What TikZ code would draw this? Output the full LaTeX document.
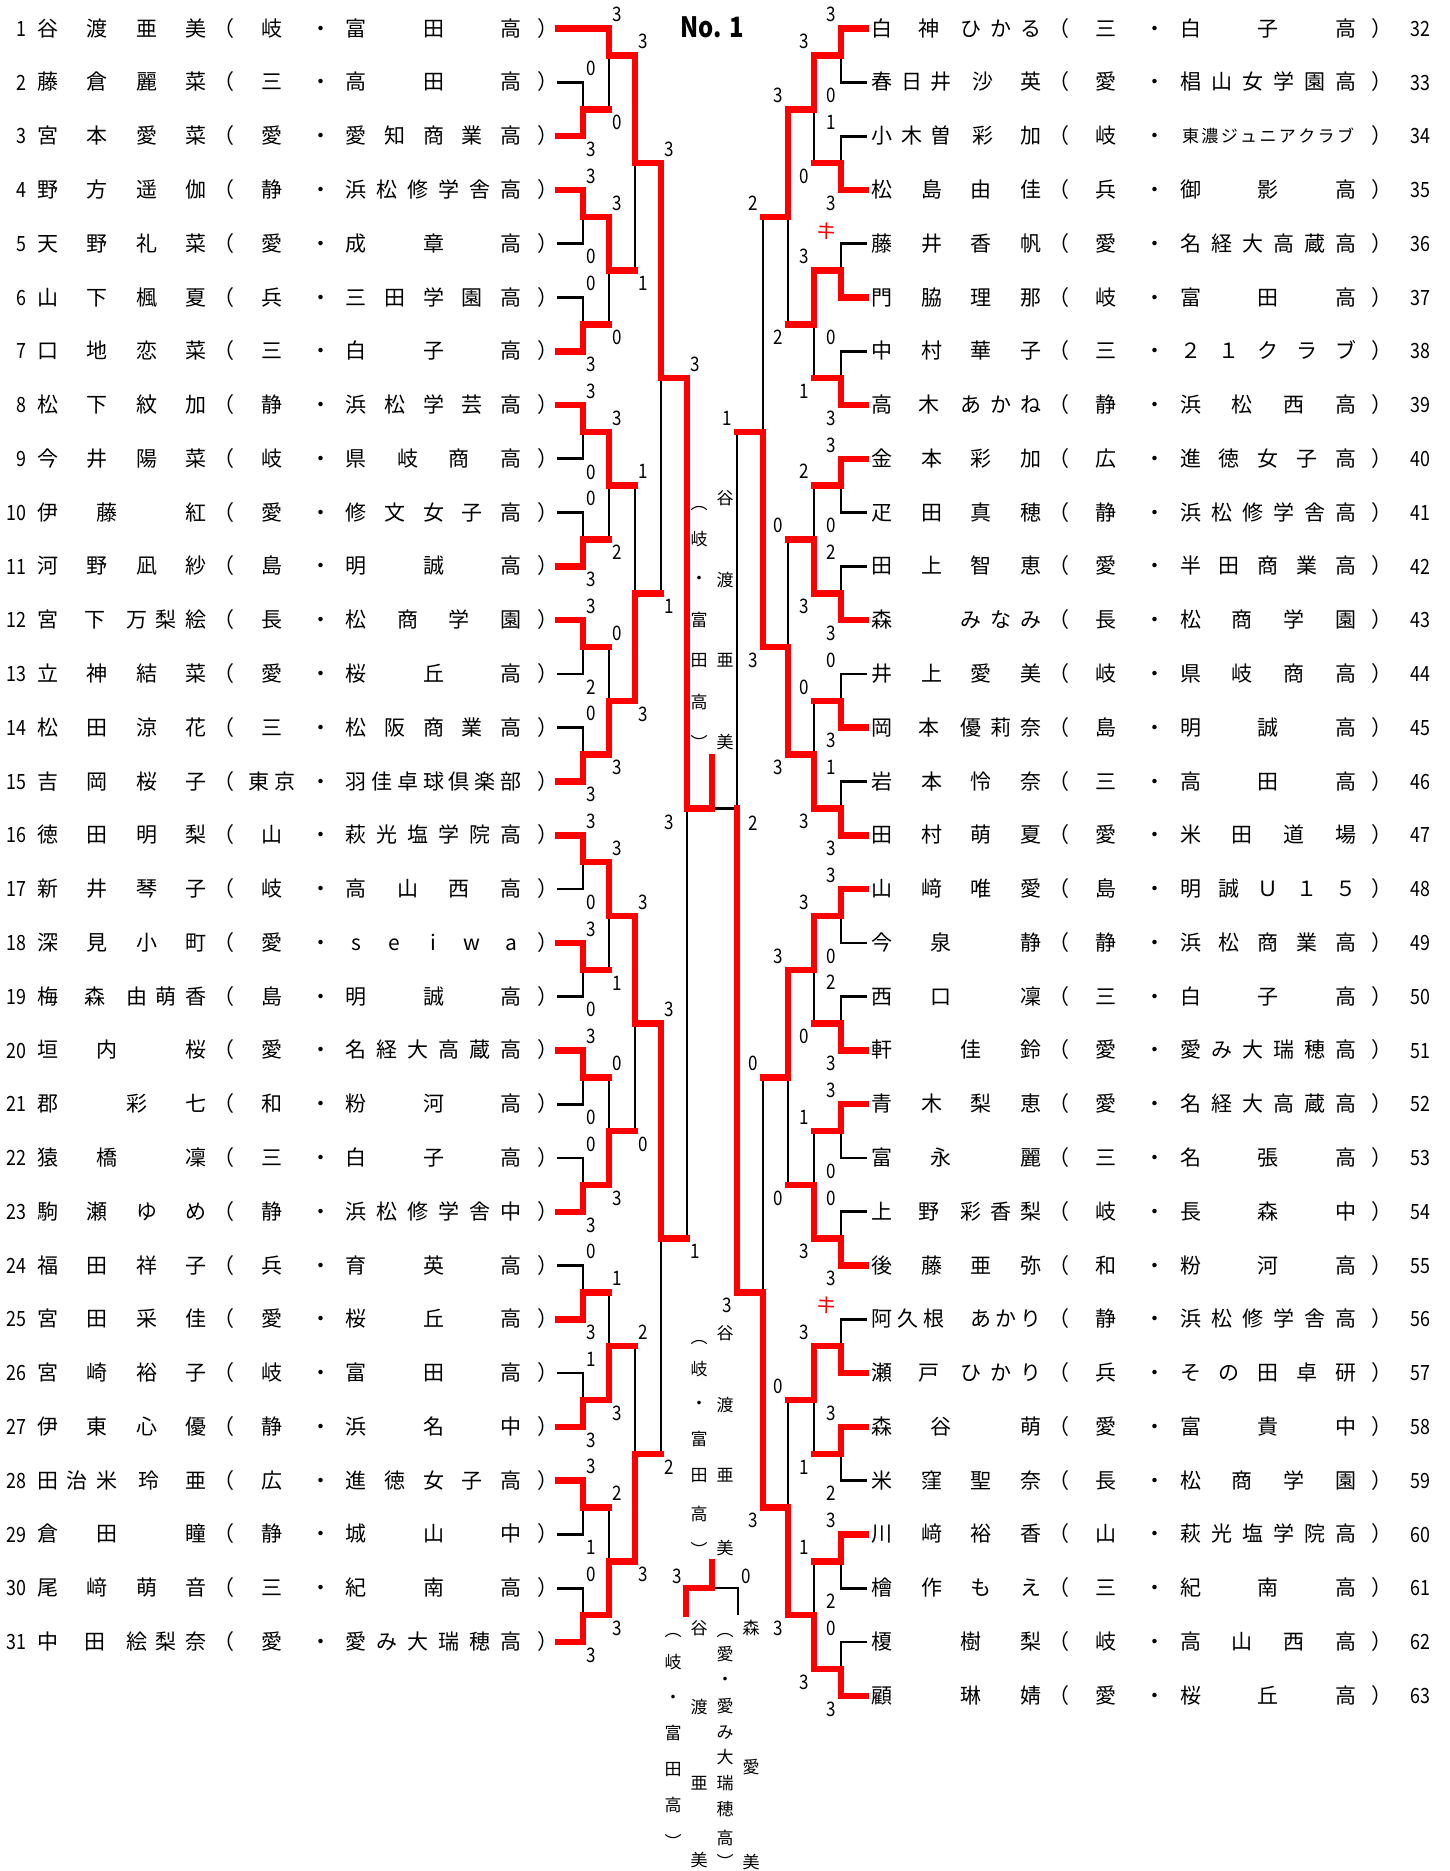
\documentclass[tikz,border=0pt]{standalone}
\usepackage{fontspec}
\setmainfont{Noto Sans CJK JP}
\newfontfamily\jp{Noto Sans CJK JP}
\newfontfamily\jpc[FakeStretch=0.85]{Noto Sans CJK JP}
\pgfdeclarelayer{bg}\pgfdeclarelayer{bk}
\pgfsetlayers{bg,bk,main}
\tikzset{
  tx/.style={font=\jp\fontsize{21}{21}\selectfont, inner sep=0pt, text height=18pt, text depth=3pt},
  txs/.style={font=\jp\fontsize{17}{17}\selectfont, inner sep=0pt, text height=14.5pt, text depth=2.5pt},
  nmb/.style={font=\jpc\fontsize{21}{21}\selectfont, inner sep=0pt, text height=15.3pt, text depth=0pt},
  sc/.style={font=\jpc\fontsize{20}{20}\selectfont, inner sep=0pt, text height=14.5pt, text depth=0pt},
  vt/.style={font=\jp\fontsize{17}{17}\selectfont, inner sep=0pt, text height=14.5pt, text depth=2.5pt},
  ki/.style={font=\jp\fontsize{20}{20}\selectfont, text=red, inner sep=0pt, rotate=-12},
  blk/.style={line width=2.7pt, black, line cap=rect},
  rd/.style={line width=6.5pt, red, line cap=rect},
}
% match: x, yTop, yBottom, yJunction, winner t/b, next x, score top, score bottom
\newcommand\M[8]{%
  \if t#5
    \draw[rd] (#1,#2) -- (#1,#4);
    \begin{pgfonlayer}{bk}\draw[blk] (#1,#3) -- (#1,#4);\end{pgfonlayer}
  \else
    \draw[rd] (#1,#3) -- (#1,#4);
    \begin{pgfonlayer}{bk}\draw[blk] (#1,#2) -- (#1,#4);\end{pgfonlayer}
  \fi
  \ifx\relax#6\relax\else\draw[rd] (#1,#4) -- (#6,#4);\fi
  \node[sc] at ({#1+\lo},{#2-14}) {#7};
  \node[sc] at ({#1+\lo},{#3+13}) {#8};
}
\newcommand\hR[3]{\draw[rd] (#2,#1) -- (#3,#1);}
\newcommand\hB[3]{\begin{pgfonlayer}{bk}\draw[blk] (#2,#1) -- (#3,#1);\end{pgfonlayer}}
% names
\newcommand\nA[5]{\node[tx] at ({\xo},#1) {#2};\node[tx] at ({\xo+49.5},#1) {#3};\node[tx] at ({\xo+99},#1) {#4};\node[tx] at ({\xo+148.5},#1) {#5};}
\newcommand\nB[6]{\node[tx] at ({\xo},#1) {#2};\node[tx] at ({\xo+47},#1) {#3};\node[tx] at ({\xo+89.1},#1) {#4};\node[tx] at ({\xo+118.8},#1) {#5};\node[tx] at ({\xo+148.5},#1) {#6};}
\newcommand\nE[6]{\node[tx] at ({\xo},#1) {#2};\node[tx] at ({\xo+29.7},#1) {#3};\node[tx] at ({\xo+59.4},#1) {#4};\node[tx] at ({\xo+101},#1) {#5};\node[tx] at ({\xo+148.5},#1) {#6};}
\newcommand\nC[4]{\node[tx] at ({\xo},#1) {#2};\node[tx] at ({\xo+59.4},#1) {#3};\node[tx] at ({\xo+148.5},#1) {#4};}
\newcommand\nD[4]{\node[tx] at ({\xo},#1) {#2};\node[tx] at ({\xo+89.1},#1) {#3};\node[tx] at ({\xo+148.5},#1) {#4};}
\newcommand\nF[5]{\node[tx] at ({\xo},#1) {#2};\node[tx] at ({\xo+89.1},#1) {#3};\node[tx] at ({\xo+118.8},#1) {#4};\node[tx] at ({\xo+148.5},#1) {#5};}
\newcommand\nG[7]{\node[tx] at ({\xo},#1) {#2};\node[tx] at ({\xo+26},#1) {#3};\node[tx] at ({\xo+52},#1) {#4};\node[tx] at ({\xo+99},#1) {#5};\node[tx] at ({\xo+124},#1) {#6};\node[tx] at ({\xo+148.5},#1) {#7};}
\newcommand\pf[2]{\node[tx] at ({\xo+176.5},#1) {（};\node[tx] at ({\xo+224},#1) {#2};\node[tx] at ({\xo+273},#1) {・};\node[tx] at ({\xo+500},#1) {）};}
\newcommand\sch[3]{\foreach \zz [count=\ii from 0] in {#3} {\node[tx] at ({\xo+308.5+\ii*155/(#2-1)},#1) {\zz};}}
\newcommand\schs[3]{\foreach \zz [count=\ii from 0] in {#3} {\node[txs] at ({\xo+308.5+\ii*155/(#2-1)},#1) {\zz};}}
\newcommand\lnum[2]{\node[nmb,anchor=east] at (27,#1) {#2};}
\newcommand\rnum[2]{\node[nmb] at (1420,#1) {#2};}
\newcommand\vcol[2]{\foreach \yy/\zz in {#2} {\node[vt] at (#1,\yy) {\zz};}}
\begin{document}
\begin{tikzpicture}[x=1pt,y=-1pt]
\useasboundingbox (0,0) rectangle (1450,1871);
\begin{pgfonlayer}{bg}\fill[white] (0,0) rectangle (1450,1871);\end{pgfonlayer}
\node[font=\jpc\bfseries\fontsize{28}{28}\selectfont, inner sep=0pt] (title) at (712,27) {No. 1};

% ---------------- left names ----------------
\def\xo{47.5}
\lnum{28.60}{1}\nA{28.60}{谷}{渡}{亜}{美}\pf{28.60}{岐}\sch{28.60}{3}{富,田,高}
\lnum{82.38}{2}\nA{82.38}{藤}{倉}{麗}{菜}\pf{82.38}{三}\sch{82.38}{3}{高,田,高}
\lnum{136.16}{3}\nA{136.16}{宮}{本}{愛}{菜}\pf{136.16}{愛}\sch{136.16}{5}{愛,知,商,業,高}
\lnum{189.94}{4}\nA{189.94}{野}{方}{遥}{伽}\pf{189.94}{静}\sch{189.94}{6}{浜,松,修,学,舎,高}
\lnum{243.72}{5}\nA{243.72}{天}{野}{礼}{菜}\pf{243.72}{愛}\sch{243.72}{3}{成,章,高}
\lnum{297.50}{6}\nA{297.50}{山}{下}{楓}{夏}\pf{297.50}{兵}\sch{297.50}{5}{三,田,学,園,高}
\lnum{351.28}{7}\nA{351.28}{口}{地}{恋}{菜}\pf{351.28}{三}\sch{351.28}{3}{白,子,高}
\lnum{405.06}{8}\nA{405.06}{松}{下}{紋}{加}\pf{405.06}{静}\sch{405.06}{5}{浜,松,学,芸,高}
\lnum{458.84}{9}\nA{458.84}{今}{井}{陽}{菜}\pf{458.84}{岐}\sch{458.84}{4}{県,岐,商,高}
\lnum{512.62}{10}\nC{512.62}{伊}{藤}{紅}\pf{512.62}{愛}\sch{512.62}{5}{修,文,女,子,高}
\lnum{566.40}{11}\nA{566.40}{河}{野}{凪}{紗}\pf{566.40}{島}\sch{566.40}{3}{明,誠,高}
\lnum{620.18}{12}\nB{620.18}{宮}{下}{万}{梨}{絵}\pf{620.18}{長}\sch{620.18}{4}{松,商,学,園}
\lnum{673.96}{13}\nA{673.96}{立}{神}{結}{菜}\pf{673.96}{愛}\sch{673.96}{3}{桜,丘,高}
\lnum{727.74}{14}\nA{727.74}{松}{田}{涼}{花}\pf{727.74}{三}\sch{727.74}{5}{松,阪,商,業,高}
\lnum{781.52}{15}\nA{781.52}{吉}{岡}{桜}{子}\pf{781.52}{東\hspace{5pt}京}\sch{781.52}{7}{羽,佳,卓,球,倶,楽,部}
\lnum{835.30}{16}\nA{835.30}{徳}{田}{明}{梨}\pf{835.30}{山}\sch{835.30}{6}{萩,光,塩,学,院,高}
\lnum{889.08}{17}\nA{889.08}{新}{井}{琴}{子}\pf{889.08}{岐}\sch{889.08}{4}{高,山,西,高}
\lnum{942.86}{18}\nA{942.86}{深}{見}{小}{町}\pf{942.86}{愛}\sch{942.86}{5}{s,e,i,w,a}
\lnum{996.64}{19}\nB{996.64}{梅}{森}{由}{萌}{香}\pf{996.64}{島}\sch{996.64}{3}{明,誠,高}
\lnum{1050.42}{20}\nC{1050.42}{垣}{内}{桜}\pf{1050.42}{愛}\sch{1050.42}{6}{名,経,大,高,蔵,高}
\lnum{1104.20}{21}\nD{1104.20}{郡}{彩}{七}\pf{1104.20}{和}\sch{1104.20}{3}{粉,河,高}
\lnum{1157.98}{22}\nC{1157.98}{猿}{橋}{凜}\pf{1157.98}{三}\sch{1157.98}{3}{白,子,高}
\lnum{1211.76}{23}\nA{1211.76}{駒}{瀬}{ゆ}{め}\pf{1211.76}{静}\sch{1211.76}{6}{浜,松,修,学,舎,中}
\lnum{1265.54}{24}\nA{1265.54}{福}{田}{祥}{子}\pf{1265.54}{兵}\sch{1265.54}{3}{育,英,高}
\lnum{1319.32}{25}\nA{1319.32}{宮}{田}{采}{佳}\pf{1319.32}{愛}\sch{1319.32}{3}{桜,丘,高}
\lnum{1373.10}{26}\nA{1373.10}{宮}{崎}{裕}{子}\pf{1373.10}{岐}\sch{1373.10}{3}{富,田,高}
\lnum{1426.88}{27}\nA{1426.88}{伊}{東}{心}{優}\pf{1426.88}{静}\sch{1426.88}{3}{浜,名,中}
\lnum{1480.66}{28}\nE{1480.66}{田}{治}{米}{玲}{亜}\pf{1480.66}{広}\sch{1480.66}{5}{進,徳,女,子,高}
\lnum{1534.44}{29}\nC{1534.44}{倉}{田}{瞳}\pf{1534.44}{静}\sch{1534.44}{3}{城,山,中}
\lnum{1588.22}{30}\nA{1588.22}{尾}{﨑}{萌}{音}\pf{1588.22}{三}\sch{1588.22}{3}{紀,南,高}
\lnum{1642.00}{31}\nB{1642.00}{中}{田}{絵}{梨}{奈}\pf{1642.00}{愛}\sch{1642.00}{6}{愛,み,大,瑞,穂,高}

% ---------------- right names ----------------
\def\xo{882}
\rnum{28.60}{32}\nB{28.60}{白}{神}{ひ}{か}{る}\pf{28.60}{三}\sch{28.60}{3}{白,子,高}
\rnum{82.38}{33}\nE{82.38}{春}{日}{井}{沙}{英}\pf{82.38}{愛}\sch{82.38}{6}{椙,山,女,学,園,高}
\rnum{136.16}{34}\nE{136.16}{小}{木}{曽}{彩}{加}\pf{136.16}{岐}\schs{136.16}{9}{東,濃,ジ,ュ,ニ,ア,ク,ラ,ブ}
\rnum{189.94}{35}\nA{189.94}{松}{島}{由}{佳}\pf{189.94}{兵}\sch{189.94}{3}{御,影,高}
\rnum{243.72}{36}\nA{243.72}{藤}{井}{香}{帆}\pf{243.72}{愛}\sch{243.72}{6}{名,経,大,高,蔵,高}
\rnum{297.50}{37}\nA{297.50}{門}{脇}{理}{那}\pf{297.50}{岐}\sch{297.50}{3}{富,田,高}
\rnum{351.28}{38}\nA{351.28}{中}{村}{華}{子}\pf{351.28}{三}\sch{351.28}{5}{２,１,ク,ラ,ブ}
\rnum{405.06}{39}\nB{405.06}{高}{木}{あ}{か}{ね}\pf{405.06}{静}\sch{405.06}{4}{浜,松,西,高}
\rnum{458.84}{40}\nA{458.84}{金}{本}{彩}{加}\pf{458.84}{広}\sch{458.84}{5}{進,徳,女,子,高}
\rnum{512.62}{41}\nA{512.62}{疋}{田}{真}{穂}\pf{512.62}{静}\sch{512.62}{6}{浜,松,修,学,舎,高}
\rnum{566.40}{42}\nA{566.40}{田}{上}{智}{恵}\pf{566.40}{愛}\sch{566.40}{5}{半,田,商,業,高}
\rnum{620.18}{43}\nF{620.18}{森}{み}{な}{み}\pf{620.18}{長}\sch{620.18}{4}{松,商,学,園}
\rnum{673.96}{44}\nA{673.96}{井}{上}{愛}{美}\pf{673.96}{岐}\sch{673.96}{4}{県,岐,商,高}
\rnum{727.74}{45}\nB{727.74}{岡}{本}{優}{莉}{奈}\pf{727.74}{島}\sch{727.74}{3}{明,誠,高}
\rnum{781.52}{46}\nA{781.52}{岩}{本}{怜}{奈}\pf{781.52}{三}\sch{781.52}{3}{高,田,高}
\rnum{835.30}{47}\nA{835.30}{田}{村}{萌}{夏}\pf{835.30}{愛}\sch{835.30}{4}{米,田,道,場}
\rnum{889.08}{48}\nA{889.08}{山}{﨑}{唯}{愛}\pf{889.08}{島}\sch{889.08}{5}{明,誠,Ｕ,１,５}
\rnum{942.86}{49}\nC{942.86}{今}{泉}{静}\pf{942.86}{静}\sch{942.86}{5}{浜,松,商,業,高}
\rnum{996.64}{50}\nC{996.64}{西}{口}{凜}\pf{996.64}{三}\sch{996.64}{3}{白,子,高}
\rnum{1050.42}{51}\nD{1050.42}{軒}{佳}{鈴}\pf{1050.42}{愛}\sch{1050.42}{6}{愛,み,大,瑞,穂,高}
\rnum{1104.20}{52}\nA{1104.20}{青}{木}{梨}{恵}\pf{1104.20}{愛}\sch{1104.20}{6}{名,経,大,高,蔵,高}
\rnum{1157.98}{53}\nC{1157.98}{富}{永}{麗}\pf{1157.98}{三}\sch{1157.98}{3}{名,張,高}
\rnum{1211.76}{54}\nB{1211.76}{上}{野}{彩}{香}{梨}\pf{1211.76}{岐}\sch{1211.76}{3}{長,森,中}
\rnum{1265.54}{55}\nA{1265.54}{後}{藤}{亜}{弥}\pf{1265.54}{和}\sch{1265.54}{3}{粉,河,高}
\rnum{1319.32}{56}\nG{1319.32}{阿}{久}{根}{あ}{か}{り}\pf{1319.32}{静}\sch{1319.32}{6}{浜,松,修,学,舎,高}
\rnum{1373.10}{57}\nB{1373.10}{瀬}{戸}{ひ}{か}{り}\pf{1373.10}{兵}\sch{1373.10}{5}{そ,の,田,卓,研}
\rnum{1426.88}{58}\nC{1426.88}{森}{谷}{萌}\pf{1426.88}{愛}\sch{1426.88}{3}{富,貴,中}
\rnum{1480.66}{59}\nA{1480.66}{米}{窪}{聖}{奈}\pf{1480.66}{長}\sch{1480.66}{4}{松,商,学,園}
\rnum{1534.44}{60}\nA{1534.44}{川}{﨑}{裕}{香}\pf{1534.44}{山}\sch{1534.44}{6}{萩,光,塩,学,院,高}
\rnum{1588.22}{61}\nA{1588.22}{檜}{作}{も}{え}\pf{1588.22}{三}\sch{1588.22}{3}{紀,南,高}
\rnum{1642.00}{62}\nD{1642.00}{榎}{樹}{梨}\pf{1642.00}{岐}\sch{1642.00}{4}{高,山,西,高}
\rnum{1695.78}{63}\nD{1695.78}{顧}{琳}{婧}\pf{1695.78}{愛}\sch{1695.78}{3}{桜,丘,高}

% ---------------- left bracket ----------------
\def\lo{8.5}
\hR{28.60}{558}{609}
\foreach \yy in {136.16,189.94,351.28,405.06,566.40,620.18,781.52,835.30,942.86,1050.42,1211.76,1319.32,1426.88,1480.66,1642.00} {\hR{\yy}{558}{583}}
\foreach \yy in {82.38,243.72,297.50,458.84,512.62,673.96,727.74,889.08,996.64,1104.20,1157.98,1265.54,1373.10,1534.44,1588.22} {\hB{\yy}{558}{583}}
\M{583}{82.38}{136.16}{109.27}{b}{609}{0}{3}
\M{583}{189.94}{243.72}{216.83}{t}{609}{3}{0}
\M{583}{297.50}{351.28}{324.39}{b}{609}{0}{3}
\M{583}{405.06}{458.84}{431.95}{t}{609}{3}{0}
\M{583}{512.62}{566.40}{539.51}{b}{609}{0}{3}
\M{583}{620.18}{673.96}{647.07}{t}{609}{3}{2}
\M{583}{727.74}{781.52}{754.63}{b}{609}{0}{3}
\M{583}{835.30}{889.08}{862.19}{t}{609}{3}{0}
\M{583}{942.86}{996.64}{969.75}{t}{609}{3}{0}
\M{583}{1050.42}{1104.20}{1077.31}{t}{609}{3}{0}
\M{583}{1157.98}{1211.76}{1184.87}{b}{609}{0}{3}
\M{583}{1265.54}{1319.32}{1292.43}{b}{609}{0}{3}
\M{583}{1373.10}{1426.88}{1399.99}{b}{609}{1}{3}
\M{583}{1480.66}{1534.44}{1507.55}{t}{609}{3}{1}
\M{583}{1588.22}{1642.00}{1615.11}{b}{609}{0}{3}
\M{609}{28.60}{109.27}{55.49}{t}{635}{3}{0}
\M{609}{216.83}{324.39}{270.61}{t}{635}{3}{0}
\M{609}{431.95}{539.51}{485.73}{t}{635}{3}{2}
\M{609}{647.07}{754.63}{700.85}{b}{635}{0}{3}
\M{609}{862.19}{969.75}{915.97}{t}{635}{3}{1}
\M{609}{1077.31}{1184.87}{1131.09}{b}{635}{0}{3}
\M{609}{1292.43}{1399.99}{1346.21}{b}{635}{1}{3}
\M{609}{1507.55}{1615.11}{1561.33}{b}{635}{2}{3}
\M{635}{55.49}{270.61}{163.05}{t}{661}{3}{1}
\M{635}{485.73}{700.85}{593.29}{b}{661}{1}{3}
\M{635}{915.97}{1131.09}{1023.53}{t}{661}{3}{0}
\M{635}{1346.21}{1561.33}{1453.77}{b}{661}{2}{3}
\M{661}{163.05}{593.29}{378.17}{t}{687}{3}{1}
\M{661}{1023.53}{1453.77}{1238.65}{t}{687}{3}{2}
\M{687}{378.17}{1238.65}{808.41}{t}{712}{3}{1}

% ---------------- right bracket ----------------
\def\lo{-9.5}
\foreach \yy in {28.60,189.94,297.50,405.06,458.84,620.18,727.74,835.30,889.08,1050.42,1104.20,1265.54,1373.10,1426.88,1534.44,1695.78} {\hR{\yy}{841}{866}}
\foreach \yy in {82.38,136.16,243.72,351.28,512.62,566.40,673.96,781.52,942.86,996.64,1157.98,1211.76,1319.32,1480.66,1588.22,1642.00} {\hB{\yy}{841}{866}}
\M{841}{28.60}{82.38}{55.49}{t}{814}{3}{0}
\M{841}{136.16}{189.94}{163.05}{b}{814}{1}{3}
\M{841}{243.72}{297.50}{270.61}{b}{814}{}{}
\M{841}{351.28}{405.06}{378.17}{b}{814}{0}{3}
\M{841}{458.84}{512.62}{485.73}{t}{814}{3}{0}
\M{841}{566.40}{620.18}{593.29}{b}{814}{2}{3}
\M{841}{673.96}{727.74}{700.85}{b}{814}{0}{3}
\M{841}{781.52}{835.30}{808.41}{b}{814}{1}{3}
\M{841}{889.08}{942.86}{915.97}{t}{814}{3}{0}
\M{841}{996.64}{1050.42}{1023.53}{b}{814}{2}{3}
\M{841}{1104.20}{1157.98}{1131.09}{t}{814}{3}{0}
\M{841}{1211.76}{1265.54}{1238.65}{b}{814}{0}{3}
\M{841}{1319.32}{1373.10}{1346.21}{b}{814}{}{}
\M{841}{1426.88}{1480.66}{1453.77}{t}{814}{3}{2}
\M{841}{1534.44}{1588.22}{1561.33}{t}{814}{3}{2}
\M{841}{1642.00}{1695.78}{1668.89}{b}{814}{0}{3}
\M{814}{55.49}{163.05}{109.27}{t}{788}{3}{0}
\M{814}{270.61}{378.17}{324.39}{t}{788}{3}{1}
\M{814}{485.73}{593.29}{539.51}{b}{788}{2}{3}
\M{814}{700.85}{808.41}{754.63}{b}{788}{0}{3}
\M{814}{915.97}{1023.53}{969.75}{t}{788}{3}{0}
\M{814}{1131.09}{1238.65}{1184.87}{b}{788}{1}{3}
\M{814}{1346.21}{1453.77}{1399.99}{t}{788}{3}{1}
\M{814}{1561.33}{1668.89}{1615.11}{b}{788}{1}{3}
\M{788}{109.27}{324.39}{216.83}{t}{763}{3}{2}
\M{788}{539.51}{754.63}{647.07}{b}{763}{0}{3}
\M{788}{969.75}{1184.87}{1077.31}{t}{763}{3}{0}
\M{788}{1399.99}{1615.11}{1507.55}{b}{763}{0}{3}
\M{763}{216.83}{647.07}{431.95}{b}{737}{2}{3}
\M{763}{1077.31}{1507.55}{1292.43}{b}{737}{0}{3}
\M{737}{431.95}{1292.43}{808.41}{b}{}{1}{3}
\node[ki] (k1) at (827,231) {キ};
\node[ki] (k2) at (827,1305) {キ};

% ---------------- final ----------------
\coordinate (fj) at (712,808.41);
\coordinate (ft) at (712,757);
\coordinate (fr) at (737,808.41);
\draw[rd] (fj) -- (ft);
\begin{pgfonlayer}{bk}\draw[blk] (fj) -- (fr);\end{pgfonlayer}
\node[sc] (fs1) at (669,822) {3};
\node[sc] (fs2) at (753,823) {2};
\vcol{699}{503/︵,539/岐,578/・,620/富,660/田,702/高,743/︶}
\vcol{725}{498/谷,580/渡,660/亜,742/美}
\vcol{699}{1337/︵,1369/岐,1403/・,1439/富,1475/田,1514/高,1550/︶}
\vcol{725}{1333/谷,1405/渡,1475/亜,1548/美}

% ---------------- play-off ----------------
\coordinate (pl) at (686,1614);
\coordinate (pj) at (712,1588);
\coordinate (pt) at (712,1562);
\coordinate (pr) at (738,1614);
\draw[rd] (pl) |- (pj) -- (pt);
\begin{pgfonlayer}{bk}\draw[blk] (pj) -| (pr);\end{pgfonlayer}
\node[sc] (ps1) at (677,1576) {3};
\node[sc] (ps2) at (746,1576) {0};
\vcol{673}{1630/︵,1662/岐,1697/・,1733/富,1769/田,1805/高,1842/︶}
\vcol{699}{1628/谷,1707/渡,1783/亜,1860/美}
\vcol{725}{1630/︵,1654/愛,1679/・,1706/愛,1732/み,1757/大,1783/瑞,1809/穂,1838/高,1862/︶}
\vcol{751}{1628/森,1767/愛,1862/美}
\end{tikzpicture}
\end{document}
